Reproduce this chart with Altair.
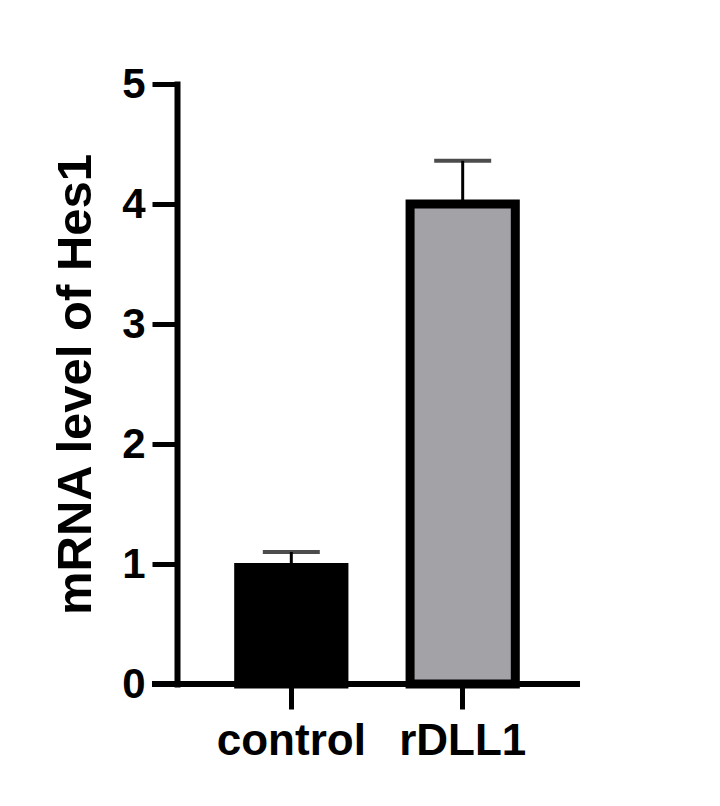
import altair as alt
import pandas as pd

# ---- data ----
categories = ["control", "rDLL1"]
means = [0.97, 4.0]
upper = [1.10, 4.36]
fill_colors = ["#000000", "#A3A2A7"]
y_ticks = [0, 1, 2, 3, 4, 5]

df = pd.DataFrame({"group": categories, "mean": means, "upper": upper})
axis_line = pd.DataFrame({"v": [0]})

FONT = "Liberation Sans"
W, H = 400, 600

x_axis = alt.Axis(
    labelAngle=0, labelFont=FONT, labelFontSize=44, labelFontWeight="bold",
    labelColor="black", labelPadding=10, tickSize=25, tickWidth=5,
    tickColor="black", domain=False, grid=False,
)
x_scale = alt.Scale(paddingInner=0.386, paddingOuter=0.36)

y_axis = alt.Axis(
    values=y_ticks, format="d", grid=False,
    labelFont=FONT, labelFontSize=42, labelFontWeight="bold", labelColor="black",
    labelPadding=7, tickSize=25, tickWidth=5, tickColor="black",
    domainWidth=6, domainColor="black", domainCap="square",
    titleFont=FONT, titleFontSize=49, titleFontWeight="bold", titleColor="black",
    titleX=-87, titleY=H / 2, titleBaseline="alphabetic", titleAlign="center",
    titleAngle=270,
)
y_scale = alt.Scale(domain=[0, 5], nice=False, zero=True)
Y_TITLE = "mRNA level of Hes1"

X = alt.X("group:N", sort=categories, title=None, scale=x_scale, axis=x_axis)

stems = alt.Chart(df).mark_rule(color="black", strokeWidth=3).encode(
    x=X,
    y=alt.Y("mean:Q", title=Y_TITLE, scale=y_scale, axis=y_axis),
    y2="upper:Q",
)

caps = alt.Chart(df).mark_tick(color="black", size=57, thickness=4).encode(
    x=X,
    y=alt.Y("upper:Q", title=Y_TITLE, scale=y_scale, axis=y_axis),
)

bars = alt.Chart(df).mark_bar(stroke="black", strokeWidth=9).encode(
    x=X,
    y=alt.Y("mean:Q", title=Y_TITLE, scale=y_scale, axis=y_axis),
    fill=alt.Fill("group:N", scale=alt.Scale(domain=categories, range=fill_colors), legend=None),
)

xline = alt.Chart(axis_line).mark_rule(color="black", strokeWidth=6).encode(
    x=alt.value(-25), x2=alt.value(403), y=alt.value(H),
)

chart = alt.layer(stems, caps, bars, xline).properties(
    width=W, height=H,
    background="white",
    autosize=alt.AutoSizeParams(type="none"),
    padding={"left": 169, "top": 76, "right": 135, "bottom": 114},
).configure_view(stroke=None)

chart.save("out.html", embed_options={"renderer": "svg", "actions": False})
